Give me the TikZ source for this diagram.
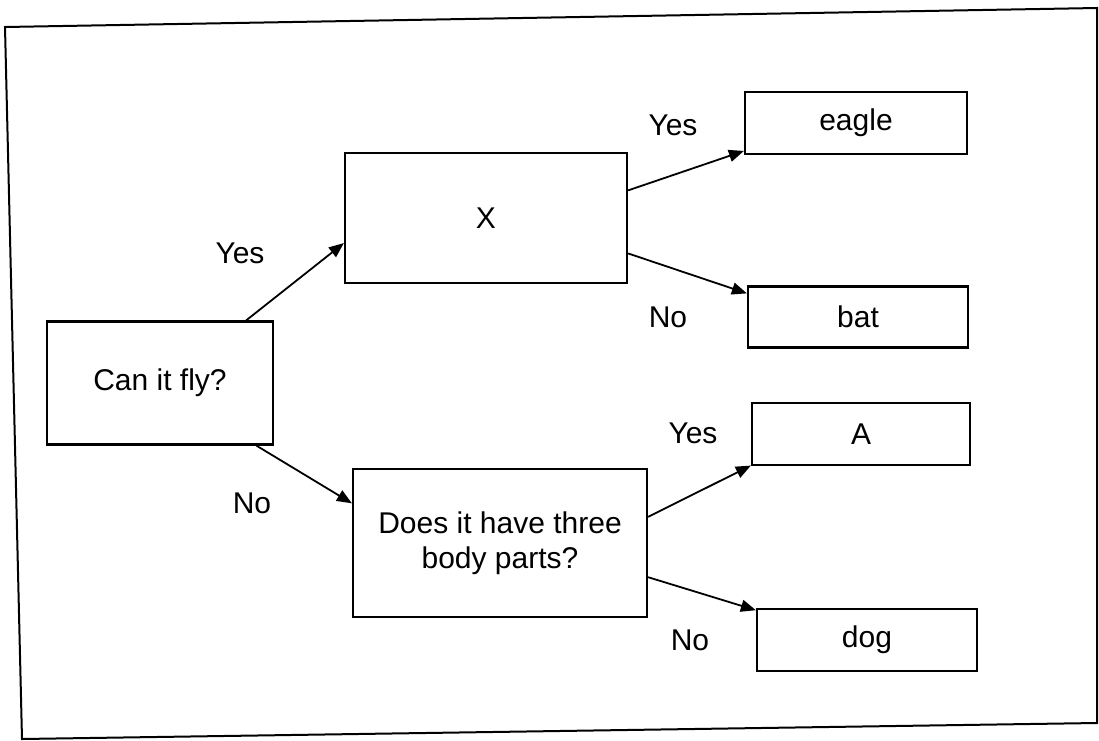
\documentclass[tikz,border=0pt]{standalone}
\usepackage{fontspec}
\setmainfont{Liberation Sans}
\usetikzlibrary{arrows.meta}
\tikzset{
  box/.style  ={draw, line width=1.1pt, align=center, inner sep=2pt,
                font=\fontsize{15}{17.5}\selectfont},
  flow/.style ={-{Triangle[length=7.5pt,width=6pt]}, line width=0.9pt},
  lbl/.style  ={font=\fontsize{15}{17.5}\selectfont},
}

\begin{document}
\begin{tikzpicture}[x=0.5pt,y=-0.5pt]
    \useasboundingbox (0,0) rectangle (1099,740);
    % scanned frame, a little tilted
    \draw[line width=1pt] (5,27) -- (1097,8) -- (1097,723) -- (22,739) -- cycle;
    \node[box, minimum width=113pt, minimum height=61.5pt] (fly)   at (160,383) {Can it fly?};
    \node[box, minimum width=141pt, minimum height=65pt]   (X)     at (486,218) {X};
    \node[box, minimum width=147pt, minimum height=74pt]   (Q)     at (500,543) {Does it have three\\body parts?};
    \node[box, minimum width=111pt, minimum height=31pt]   (eagle) at (856,123) {eagle};
    \node[box, minimum width=110pt, minimum height=30.5pt] (bat)   at (858,317) {bat};
    \node[box, minimum width=109pt, minimum height=31pt]   (A)     at (861,434) {A};
    \node[box, minimum width=110pt, minimum height=31pt]   (dog)   at (867,640) {dog};
    \draw[flow] (fly.36)  -- (X.190);
    \draw[flow] (fly.327) -- (Q.165);
    \draw[flow] (X.11)    -- (eagle.194);
    \draw[flow] (X.346)   -- (bat.168);
    \draw[flow] (Q.10)    -- (A.196);
    \draw[flow] (Q.347)   -- (dog.165);
    \node[lbl] (y1) at (240,253) {Yes};
    \node[lbl] (n1) at (252,503) {No};
    \node[lbl] (y2) at (673,125) {Yes};
    \node[lbl] (n2) at (668,317) {No};
    \node[lbl] (y3) at (693,433) {Yes};
    \node[lbl] (n3) at (690,640) {No};
  \end{tikzpicture}
\end{document}
